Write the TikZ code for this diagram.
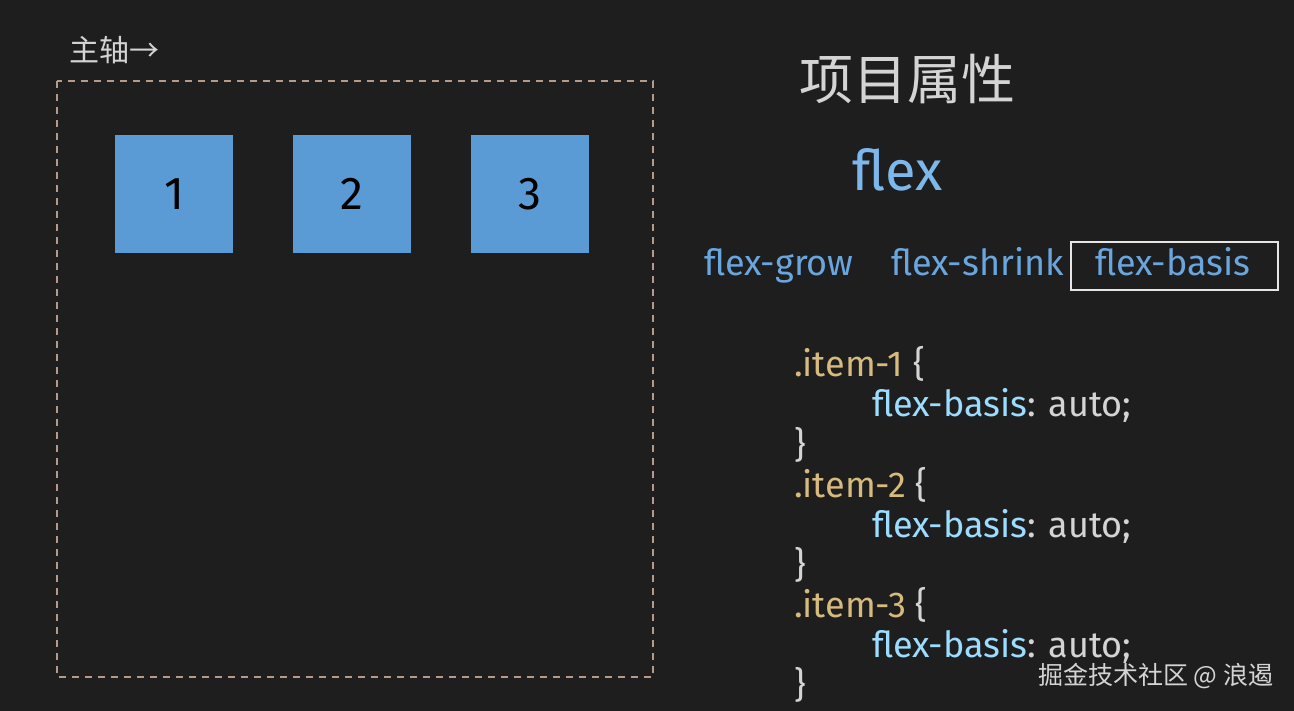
\documentclass[tikz,border=0pt]{standalone}
\usepackage{fontspec}
\setmainfont{Fira Sans}
\newfontfamily\cjk{Noto Sans CJK SC}
\definecolor{bg}{HTML}{1E1E1E}
\definecolor{boxblue}{HTML}{5B9BD5}
\definecolor{dashc}{HTML}{B89A88}
\definecolor{lightgray}{HTML}{D4D4D4}
\definecolor{titleblue}{HTML}{7DB8EC}
\definecolor{propblue}{HTML}{6AA6DE}
\definecolor{codetan}{HTML}{D7BA7D}
\definecolor{codeblue}{HTML}{9CDCFE}
\tikzset{
  itembox/.style={fill=boxblue, draw=none, minimum width=118pt, minimum height=118pt, inner sep=0pt, font=\fontsize{46}{46}\selectfont, text=black},
  prop/.style={anchor=base west, inner sep=0pt, text=propblue, font=\fontsize{36}{36}\selectfont},
  code/.style={anchor=base west, inner sep=0pt, font=\fontsize{36}{36}\selectfont, text=lightgray},
}
\begin{document}
\begin{tikzpicture}[x=1pt,y=-1pt]
\fill[bg] (0,0) rectangle (1294,711);
\useasboundingbox (0,0) rectangle (1294,711);
\node[anchor=west, inner sep=0pt, text=lightgray, font=\cjk\fontsize{30}{30}\selectfont] (axis) at (69,50) {主轴→};
\draw[dashc, line width=1.2pt, dash pattern=on 7pt off 6pt] (57,81) rectangle (653,677);
\node[itembox] (b1) at (174,194.5) {1};
\node[itembox] (b2) at (352,194) {2};
\node[itembox] (b3) at (530,194.5) {3};
\node[inner sep=0pt, text=lightgray, font=\cjk\fontsize{54}{54}\selectfont] (title) at (907,79) {项目属性};
\node[inner sep=0pt, text=titleblue, font=\fontsize{56}{56}\selectfont, anchor=base west] (flex) at (852,191) {flex};
\node[prop] (grow) at (704,276) {flex-grow};
\node[prop] (shrink) at (891,276) {flex-shrink};
\node[prop] (basis) at (1095,276) {flex-basis};
\draw[white!90!black, line width=1.5pt] (1071,242) rectangle (1278,290);
\foreach \i/\y in {1/377,2/497,3/617}{
  \node[code, text=codetan] (item\i) at (794,\y) {.item-\i\ \textcolor{lightgray}{\{}};
  \node[code] (decl\i) at (872,\y+40) {\textcolor{codeblue}{flex-basis}: auto;};
  \node[code] (close\i) at (794,\y+80) {\}};
}
\node[anchor=west, inner sep=0pt, text=lightgray, font=\cjk\fontsize{25}{25}\selectfont] (wm) at (1038,676) {掘金技术社区 @ 浪遏};
\end{tikzpicture}
\end{document}
